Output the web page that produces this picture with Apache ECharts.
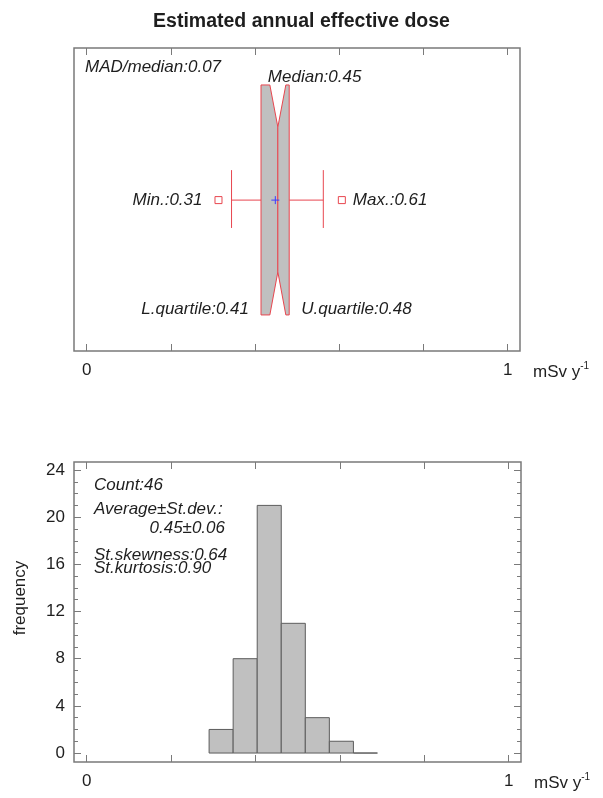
<!DOCTYPE html>
<html><head><meta charset="utf-8">
<script src="https://cdn.jsdelivr.net/npm/echarts@6/dist/echarts.min.js"></script>
<style>html,body{margin:0;padding:0;background:#fff}#c{width:603px;height:798px}</style>
</head><body><div id="c"></div>
<script>
// ---- data (mSv y-1) ----
const boxValueNames = ['min', 'whiskerLow', 'q1', 'notchLow', 'median', 'notchHigh', 'q3', 'whiskerHigh', 'max', 'mean'];
const boxValues     = [0.313, 0.344, 0.414, 0.435, 0.454, 0.473, 0.481, 0.562, 0.606, 0.448];
const boxLabelTexts = ['Min.:0.31', 'Max.:0.61', 'Median:0.45', 'L.quartile:0.41', 'U.quartile:0.48'];
const madText = 'MAD/median:0.07';

const binEdges  = [0.290, 0.347, 0.404, 0.461, 0.518, 0.575, 0.632, 0.689];
const binCounts = [2, 8, 21, 11, 3, 1, 0];
const statsLines = ['Count:46', 'Average\u00b1St.dev.:', '0.45\u00b10.06', 'St.skewness:0.64', 'St.kurtosis:0.90'];

const xTickValues  = [0, 0.2, 0.4, 0.6, 0.8, 1];
const xLabelValues = [0, 1];
const yMajorTicks  = [0, 4, 8, 12, 16, 20, 24];
const yMinorTicks  = [0,1,2,3,4,5,6,7,8,9,10,11,12,13,14,15,16,17,18,19,20,21,22,23,24];

const titleText = 'Estimated annual effective dose';
const unitName = 'mSv y';
const unitSup = '-1';
const yName = 'frequency';

// ---- styles ----
const FONT = '"Liberation Sans", Arial, sans-serif';
const FRAME = '#7a7a7a';
const RED = '#e8464f';
const GREY = '#c0c0c0';
const TXT = '#1e1e1e';

const bv = {};
boxValueNames.forEach((n, i) => bv[n] = boxValues[i]);

const chart = echarts.init(document.getElementById('c'), null, {renderer: 'canvas'});

function xAxisCfg(grid, pos, withLabels) {
  return {
    type: 'value', gridIndex: grid, position: pos,
    min: -0.0302, max: 1.0292,
    axisLine: {show: false, onZero: false},
    splitLine: {show: false},
    axisTick: {show: true, inside: true, length: 7, customValues: xTickValues, lineStyle: {color: FRAME, width: 1}},
    axisLabel: withLabels ? {show: true, customValues: xLabelValues, fontSize: 17, color: TXT, fontFamily: FONT, margin: 11,
      formatter: v => String(v)} : {show: false},
    name: withLabels ? '{a|' + unitName + '}{b|' + unitSup + '}' : '',
    nameLocation: 'end', nameGap: 13,
    nameTextStyle: {verticalAlign: 'top', padding: [10, 0, 0, 0],
      rich: {a: {fontSize: 17, fontFamily: FONT, color: TXT, lineHeight: 20, verticalAlign: 'bottom'},
             b: {fontSize: 10, fontFamily: FONT, color: TXT, lineHeight: 20, verticalAlign: 'top'}}}
  };
}
function yTicksCfg(pos, ticks, len, labels) {
  return {
    type: 'value', gridIndex: 1, position: pos, min: -0.76, max: 24.68,
    axisLine: {show: false, onZero: false}, splitLine: {show: false},
    axisTick: {show: true, inside: true, length: len, customValues: ticks, lineStyle: {color: FRAME, width: 1}},
    axisLabel: labels ? {show: true, customValues: yMajorTicks, fontSize: 17, color: TXT, fontFamily: FONT, margin: 9} : {show: false},
    name: labels ? yName : '', nameLocation: 'middle', nameRotate: 90, nameGap: 45,
    nameTextStyle: {fontSize: 17, fontFamily: FONT, color: TXT, padding: [0, 0, 0, 28]}
  };
}

// box layout (fractions of the top panel height)
const L = {top: 0.878, bottom: 0.119, notchTop: 0.739, notchBottom: 0.261, capTop: 0.597, capBottom: 0.406, mid: 0.498};

function renderBox(params, api) {
  const X = v => api.coord([v, 0])[0];
  const Y = f => api.coord([0, f])[1];
  const yT = Y(L.top), yB = Y(L.bottom), yNT = Y(L.notchTop), yNB = Y(L.notchBottom), yM = Y(L.mid);
  const xq1 = X(bv.q1), xq3 = X(bv.q3), xMed = X(bv.median), xNL = X(bv.notchLow), xNH = X(bv.notchHigh);
  const xWL = X(bv.whiskerLow), xWH = X(bv.whiskerHigh), xMin = X(bv.min), xMax = X(bv.max), xMean = X(bv.mean);
  const lineStyle = {stroke: RED, lineWidth: 1, fill: null};
  const txt = (text, x, y, align) => ({type: 'text', x, y, style: {text, fill: TXT, font: 'italic 17px ' + FONT, align, verticalAlign: 'middle'}});
  const sq = 7;
  return {type: 'group', children: [
    {type: 'line', shape: {x1: xWL, y1: yM, x2: xq1, y2: yM}, style: lineStyle},
    {type: 'line', shape: {x1: xq3, y1: yM, x2: xWH, y2: yM}, style: lineStyle},
    {type: 'line', shape: {x1: xWL, y1: Y(L.capTop), x2: xWL, y2: Y(L.capBottom)}, style: lineStyle},
    {type: 'line', shape: {x1: xWH, y1: Y(L.capTop), x2: xWH, y2: Y(L.capBottom)}, style: lineStyle},
    {type: 'polygon', shape: {points: [[xq1, yT], [xNL, yT], [xMed, yNT], [xMed, yNB], [xNL, yB], [xq1, yB]]},
      style: {fill: GREY, stroke: RED, lineWidth: 1}},
    {type: 'polygon', shape: {points: [[xMed, yNT], [xNH, yT], [xq3, yT], [xq3, yB], [xNH, yB], [xMed, yNB]]},
      style: {fill: GREY, stroke: RED, lineWidth: 1}},
    {type: 'rect', shape: {x: xMin - sq / 2, y: yM - sq / 2, width: sq, height: sq}, style: lineStyle},
    {type: 'rect', shape: {x: xMax - sq / 2, y: yM - sq / 2, width: sq, height: sq}, style: lineStyle},
    {type: 'line', shape: {x1: xMean - 4, y1: yM, x2: xMean + 4, y2: yM}, style: {stroke: '#3c3cff', lineWidth: 1}},
    {type: 'line', shape: {x1: xMean, y1: yM - 4, x2: xMean, y2: yM + 4}, style: {stroke: '#3c3cff', lineWidth: 1}},
    txt(boxLabelTexts[0], xMin - 16, yM, 'right'),
    txt(boxLabelTexts[1], xMax + 11, yM, 'left'),
    txt(boxLabelTexts[2], xMed - 10, yT - 8, 'left'),
    txt(boxLabelTexts[3], xq1 - 12, yB - 6, 'right'),
    txt(boxLabelTexts[4], xq3 + 12, yB - 6, 'left')
  ]};
}

function renderBin(params, api) {
  const lo = api.value(0), hi = api.value(1), n = api.value(2);
  const p1 = api.coord([lo, n]);
  const p0 = api.coord([hi, 0]);
  return {type: 'rect', shape: {x: p1[0], y: p1[1], width: p0[0] - p1[0], height: p0[1] - p1[1]},
    style: {fill: n > 0 ? GREY : null, stroke: '#5c5c5c', lineWidth: 1}};
}

const binData = binCounts.map((c, i) => [binEdges[i], binEdges[i + 1], c]);

const option = {
  animation: false,
  backgroundColor: '#fff',
  title: {text: titleText, left: 'center', top: 7,
    textStyle: {fontSize: 19.5, fontWeight: 'bold', fontFamily: FONT, color: TXT}},
  grid: [
    {left: 74, right: 83, top: 48, height: 303, show: true, borderColor: FRAME, borderWidth: 1.5, backgroundColor: 'transparent'},
    {left: 74, right: 82, top: 462, height: 300, show: true, borderColor: FRAME, borderWidth: 1.5, backgroundColor: 'transparent'}
  ],
  xAxis: [
    xAxisCfg(0, 'bottom', true),
    xAxisCfg(0, 'top', false),
    xAxisCfg(1, 'bottom', true),
    xAxisCfg(1, 'top', false)
  ],
  yAxis: [
    {type: 'value', gridIndex: 0, min: 0, max: 1, show: false},
    yTicksCfg('left', yMajorTicks, 7, true),
    yTicksCfg('left', yMinorTicks, 4, false),
    yTicksCfg('right', yMajorTicks, 7, false),
    yTicksCfg('right', yMinorTicks, 4, false)
  ],
  graphic: [
    {type: 'text', x: 85, y: 67, style: {text: madText, fill: TXT, font: 'italic 17px ' + FONT, verticalAlign: 'middle'}},
    {type: 'text', x: 94, y: 485, style: {text: statsLines[0], fill: TXT, font: 'italic 17px ' + FONT, verticalAlign: 'middle'}},
    {type: 'text', x: 94, y: 509, style: {text: statsLines[1], fill: TXT, font: 'italic 17px ' + FONT, verticalAlign: 'middle'}},
    {type: 'text', x: 225, y: 528, style: {text: statsLines[2], fill: TXT, font: 'italic 17px ' + FONT, align: 'right', verticalAlign: 'middle'}},
    {type: 'text', x: 94, y: 555, style: {text: statsLines[3], fill: TXT, font: 'italic 17px ' + FONT, verticalAlign: 'middle'}},
    {type: 'text', x: 94, y: 568, style: {text: statsLines[4], fill: TXT, font: 'italic 17px ' + FONT, verticalAlign: 'middle'}}
  ],
  series: [
    {type: 'custom', xAxisIndex: 0, yAxisIndex: 0, renderItem: renderBox, data: [[0]], silent: true, clip: false},
    {type: 'custom', xAxisIndex: 2, yAxisIndex: 1, renderItem: renderBin, data: binData, silent: true,
      encode: {x: [0, 1], y: 2}}
  ]
};
chart.setOption(option);
</script>
</body></html>
